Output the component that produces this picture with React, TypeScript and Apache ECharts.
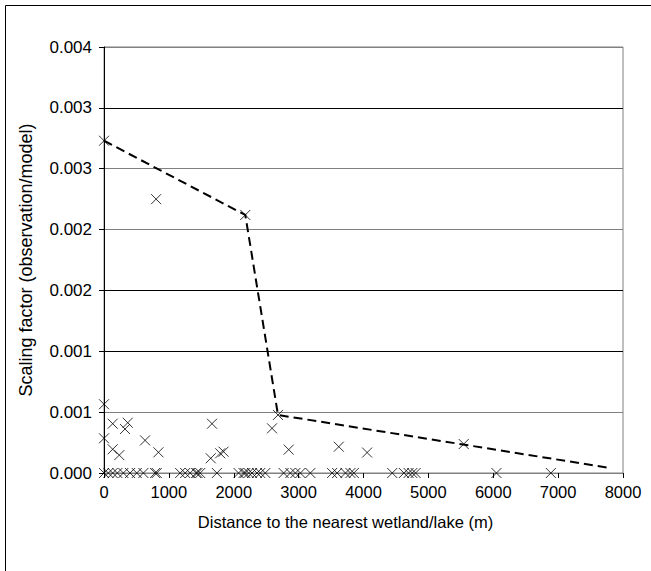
import React, { useEffect, useRef } from "react";
import * as echarts from "echarts";

// Non-zero observations: distance (m) and scaling factor
const obsDistance = [0, 803, 2178, 2682, 0, 134, 366, 324, 0, 134, 236, 633, 839, 1665, 1645, 1791, 1843, 2590, 2847, 3619, 4056, 5545];
const obsFactor = [0.00273, 0.00225, 0.00212, 0.000477, 0.000565, 0.000405, 0.000413, 0.000361, 0.000285, 0.000195, 0.000147, 0.000268, 0.00017, 0.000405, 0.000121, 0.000162, 0.000175, 0.000367, 0.000192, 0.000216, 0.000168, 0.000238];

// Observations with a scaling factor of zero
const zeroDistance = [0, 67, 134, 206, 298, 402, 505, 607, 788, 813, 1174, 1251, 1328, 1421, 1441, 1483, 1740, 2074, 2151, 2178, 2229, 2281, 2358, 2409, 2486, 2769, 2873, 2950, 3027, 3181, 3516, 3593, 3722, 3799, 3851, 4443, 4623, 4695, 4752, 4803, 6049, 6888];

// Upper envelope (dashed line)
const envDistance = [0, 2178, 2682, 7815];
const envFactor = [0.00273, 0.00212, 0.000477, 0.00004];

const xTitle = "Distance to the nearest wetland/lake (m)";
const yTitle = "Scaling factor (observation/model)";

const FONT = "Arial, 'Liberation Sans', sans-serif";

export default function App() {
  const ref = useRef<HTMLDivElement>(null);
  useEffect(() => {
    if (!ref.current) return;
    const chart = echarts.init(ref.current, null, { renderer: "svg" });
    const points: number[][] = [];
    obsDistance.forEach((d, i) => points.push([d, obsFactor[i]]));
    zeroDistance.forEach((d) => points.push([d, 0]));
    const env = envDistance.map((d, i) => [d, envFactor[i]]);
    chart.setOption({
      animation: false,
      backgroundColor: "#fff",
      textStyle: { fontFamily: FONT },
      grid: {
        left: 104,
        top: 47,
        right: 28,
        bottom: 98,
        show: true,
        borderColor: "#808080",
        borderWidth: 1,
        backgroundColor: "transparent",
      },
      graphic: [
        {
          type: "rect",
          shape: { x: 5.5, y: 5.5, width: 800, height: 800 },
          style: { fill: "none", stroke: "#000", lineWidth: 1 },
          silent: true,
          z: -1,
        },
      ],
      xAxis: {
        type: "value",
        min: 0,
        max: 8000,
        interval: 1000,
        name: xTitle,
        nameLocation: "middle",
        nameGap: 40,
        nameTextStyle: { color: "#000", fontSize: 16.5, fontFamily: FONT, padding: [0, 36, 0, 0] },
        axisLine: { show: true, lineStyle: { color: "#808080", width: 1 } },
        axisTick: { show: true, inside: false, length: 5, lineStyle: { color: "#000" } },
        axisLabel: {
          color: "#000",
          fontSize: 16.5,
          margin: 10,
          fontFamily: FONT,
          formatter: (v: number) => String(Math.round(v)),
        },
        splitLine: { show: false },
      },
      yAxis: {
        type: "value",
        min: 0,
        max: 0.0035,
        interval: 0.0005,
        name: yTitle,
        nameLocation: "middle",
        nameGap: 69,
        nameTextStyle: { color: "#000", fontSize: 18, fontFamily: FONT },
        axisLine: { show: true, lineStyle: { color: "#000", width: 1 } },
        axisTick: { show: true, inside: false, length: 5, lineStyle: { color: "#000" } },
        axisLabel: {
          color: "#000",
          fontSize: 17,
          margin: 12,
          fontFamily: FONT,
          formatter: (v: number) => (Math.round(Math.round(v * 1e5) / 100) / 1000).toFixed(3),
        },
        splitLine: {
          show: true,
          lineStyle: {
            color: ["#808080", "#808080", "#000", "#000", "#808080", "#808080", "#000", "#808080"],
            width: 1,
          },
        },
      },
      series: [
        {
          type: "line",
          data: env,
          symbol: "none",
          lineStyle: { color: "#000", width: 2, type: [9, 5] },
          z: 3,
        },
        {
          type: "scatter",
          data: points,
          symbol: "path://M0,0L10,10M0,10L10,0",
          symbolSize: 10,
          clip: false,
          itemStyle: { color: "none", borderColor: "#000", borderWidth: 1 },
          z: 4,
        },
      ],
    });
    return () => chart.dispose();
  }, []);
  return (
    <div
      ref={ref}
      style={{ position: "absolute", left: 0, top: 0, width: 651, height: 571, background: "#fff" }}
    />
  );
}
